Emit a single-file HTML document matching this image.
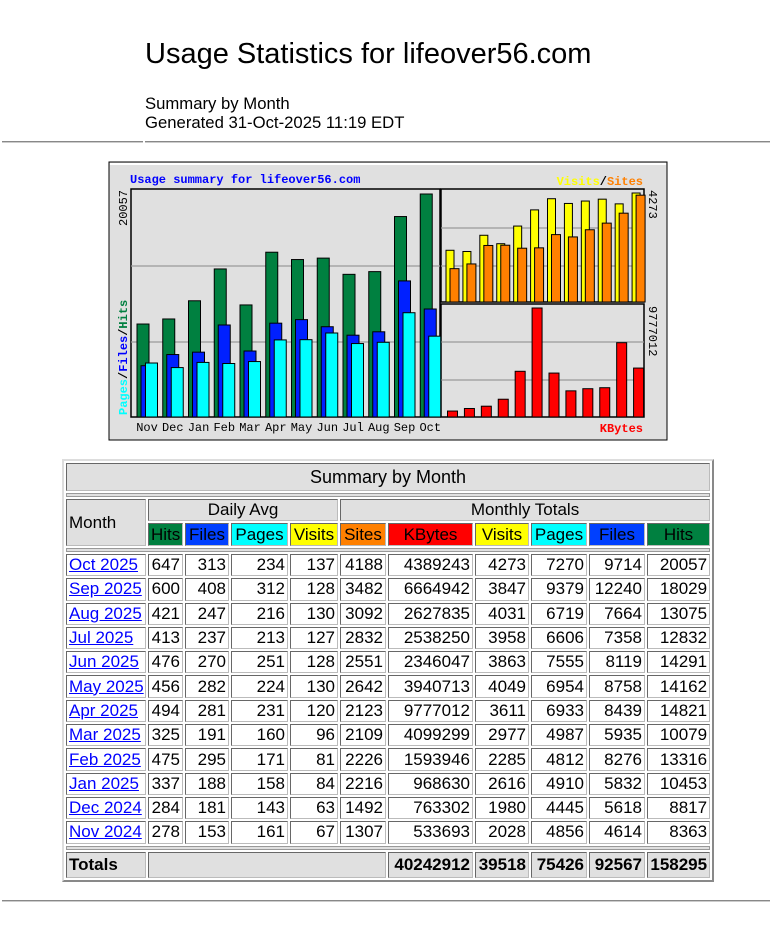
<!DOCTYPE html>
<html><head><meta charset="utf-8">
<style>
body{margin:0;width:770px;height:947px;background:#fff;font-family:"Liberation Sans",Arial,sans-serif;position:relative;overflow:hidden}
.abs{position:absolute}
.hr{position:absolute;height:0;border-top:1px solid #888;border-bottom:1px solid #ccc}
table{position:absolute;left:62px;top:459px;width:652px;border:2px outset #ddd;border-spacing:2px;table-layout:fixed;font-size:17px;background:#fff}
td,th{border:1px inset #bbb;padding:0 2px;white-space:nowrap;overflow:hidden}
th{font-weight:normal}
.g{background:#e0e0e0}
td.n{text-align:right}
a{color:#00f}
.sep td{height:2px;padding:0;background:#e0e0e0;border:1px solid #999}
</style></head><body>
<div class="abs" style="left:145px;top:38px;font-size:29px">Usage Statistics for lifeover56.com</div>
<div class="abs" style="left:145px;top:94px;font-size:16.7px;line-height:19px">Summary by Month<br>Generated 31-Oct-2025 11:19 EDT</div>
<div class="hr" style="left:2px;top:141px;width:141px"></div>
<div class="hr" style="left:145px;top:141px;width:625px"></div>

<svg class="abs" style="left:108px;top:161px" width="560" height="280" viewBox="108 161 560 280">
<rect x="109" y="162" width="558" height="278" fill="#e0e0e0" stroke="#000" stroke-width="1"/>
<rect x="110" y="163" width="556" height="2" fill="#fff"/>
<text x="130" y="183" font-family="Liberation Mono,monospace" font-size="12" font-weight="bold" fill="#0000ff">Usage summary for lifeover56.com</text>
<text x="643" y="185" text-anchor="end" font-family="Liberation Mono,monospace" font-size="12" font-weight="bold"><tspan fill="#ffff00">Visits</tspan><tspan fill="#000">/</tspan><tspan fill="#ff8000">Sites</tspan></text>
<text x="643" y="432" text-anchor="end" font-family="Liberation Mono,monospace" font-size="12" font-weight="bold" fill="#ff0000">KBytes</text>
<text transform="translate(127,415) rotate(-90)" font-family="Liberation Mono,monospace" font-size="12" font-weight="bold"><tspan fill="#00ffff">Pages</tspan><tspan fill="#000">/</tspan><tspan fill="#0000ff">Files</tspan><tspan fill="#000">/</tspan><tspan fill="#008040">Hits</tspan></text>
<text transform="translate(127,226) rotate(-90)" font-family="Liberation Mono,monospace" font-size="12" fill="#000">20057</text>
<text transform="translate(649,190) rotate(90)" font-family="Liberation Mono,monospace" font-size="12" fill="#000">4273</text>
<text transform="translate(649,306) rotate(90)" font-family="Liberation Mono,monospace" font-size="12" fill="#000">9777012</text>
<g id="plots"></g>
</svg>

<table>
<colgroup><col style="width:80px"><col style="width:35px"><col style="width:44px"><col style="width:57px"><col style="width:48px"><col style="width:46px"><col style="width:85px"><col style="width:54px"><col style="width:56px"><col style="width:56px"><col style="width:63px"></colgroup>
<tr style="height:28px"><th colspan="11" class="g" style="font-size:18px">Summary by Month</th></tr>
<tr class="sep"><td colspan="11"></td></tr>
<tr style="height:22px"><th rowspan="2" class="g" style="text-align:left">Month</th>
<th colspan="4" class="g">Daily Avg</th>
<th colspan="6" class="g">Monthly Totals</th></tr>
<tr style="height:23px">
<th style="background:#008040">Hits</th>
<th style="background:#0040ff">Files</th>
<th style="background:#00ffff">Pages</th>
<th style="background:#ffff00">Visits</th>
<th style="background:#ff8000">Sites</th>
<th style="background:#ff0000">KBytes</th>
<th style="background:#ffff00">Visits</th>
<th style="background:#00ffff">Pages</th>
<th style="background:#0040ff">Files</th>
<th style="background:#008040">Hits</th></tr>
<tr class="sep"><td colspan="11"></td></tr>
<tbody id="rows"></tbody>
<tr class="sep"><td colspan="11"></td></tr>
<tr class="g" style="height:26px"><th class="g" style="text-align:left;font-weight:bold">Totals</th><th colspan="5" class="g"></th>
<td class="n g" style="font-weight:bold">40242912</td>
<td class="n g" style="font-weight:bold">39518</td>
<td class="n g" style="font-weight:bold">75426</td>
<td class="n g" style="font-weight:bold">92567</td>
<td class="n g" style="font-weight:bold">158295</td></tr>
</table>
<div class="hr" style="left:2px;top:900px;width:768px"></div>

<script>
const months = ["Nov","Dec","Jan","Feb","Mar","Apr","May","Jun","Jul","Aug","Sep","Oct"];
const hits = [8363,8817,10453,13316,10079,14821,14162,14291,12832,13075,18029,20057];
const files = [4614,5618,5832,8276,5935,8439,8758,8119,7358,7664,12240,9714];
const pages = [4856,4445,4910,4812,4987,6933,6954,7555,6606,6719,9379,7270];
const visits = [2028,1980,2616,2285,2977,3611,4049,3863,3958,4031,3847,4273];
const sites = [1307,1492,2216,2226,2109,2123,2642,2551,2832,3092,3482,4188];
const kbytes = [533693,763302,968630,1593946,4099299,9777012,3940713,2346047,2538250,2627835,6664942,4389243];
const rowLabels = ["Oct 2025","Sep 2025","Aug 2025","Jul 2025","Jun 2025","May 2025","Apr 2025","Mar 2025","Feb 2025","Jan 2025","Dec 2024","Nov 2024"];
const avgHits = [647,600,421,413,476,456,494,325,475,337,284,278];
const avgFiles = [313,408,247,237,270,282,281,191,295,188,181,153];
const avgPages = [234,312,216,213,251,224,231,160,171,158,143,161];
const avgVisits = [137,128,130,127,128,130,120,96,81,84,63,67];

const NS="http://www.w3.org/2000/svg";
const g=document.getElementById('plots');
function el(t,a){const e=document.createElementNS(NS,t);for(const k in a)e.setAttribute(k,a[k]);g.appendChild(e);return e;}
const L={x0:131,x1:440,top:189,base:417,h:223};
const RT={x0:441,x1:644,top:189,base:302,h:109};
const RB={x0:441,x1:644,top:304,base:417,h:109};
[L,RT,RB].forEach(p=>{el('rect',{x:p.x0,y:p.top,width:p.x1-p.x0,height:p.base-p.top,fill:'none',stroke:'#000','stroke-width':1.5});});
[342,266].forEach(y=>el('line',{x1:L.x0,x2:L.x1,y1:y,y2:y,stroke:'#999','stroke-width':1.2}));
[266,228].forEach(y=>el('line',{x1:RT.x0,x2:RT.x1,y1:y,y2:y,stroke:'#999','stroke-width':1.2}));
[380,342].forEach(y=>el('line',{x1:RB.x0,x2:RB.x1,y1:y,y2:y,stroke:'#999','stroke-width':1.2}));
const maxL=Math.max(...hits), maxV=Math.max(...visits,...sites), maxK=Math.max(...kbytes);
const yL=v=>L.base-v/maxL*L.h, yV=v=>RT.base-v/maxV*RT.h, yK=v=>RB.base-v/maxK*RB.h;
function bar(x,w,y,base,fill,name){const r=el('rect',{x:x,y:y,width:w,height:base-y,fill:fill,stroke:'#000','stroke-width':1});

}
const stepL=(L.x1-L.x0)/12, stepR=(RT.x1-RT.x0)/12;
months.forEach((m,i)=>{
  const x=L.x0+6+i*stepL;
  bar(x,12,yL(hits[i]),L.base,'#008040','bar-hits-'+m);
  bar(x+4,12,yL(files[i]),L.base,'#0020ff','bar-files-'+m);
  bar(x+8.5,12,yL(pages[i]),L.base,'#00ffff','bar-pages-'+m);
  const t=el('text',{x:x+10,y:431,'text-anchor':'middle','font-family':'Liberation Mono,monospace','font-size':12,fill:'#000'});t.textContent=m;
  
  
  const xr=RT.x0+5+i*stepR;
  bar(xr,8,yV(visits[i]),RT.base,'#ffff00','bar-visits-'+m);
  bar(xr+4,9,yV(sites[i]),RT.base,'#ff8000','bar-sites-'+m);
  bar(xr+1.5,10,yK(kbytes[i]),RB.base,'#ff0000','bar-kbytes-'+m);
});
const tb=document.getElementById('rows');
rowLabels.forEach((lab,i)=>{
  const j=11-i;
  const tr=document.createElement('tr');tr.style.height='22.3px';
  const vals=[avgHits[i],avgFiles[i],avgPages[i],avgVisits[i],sites[j],kbytes[j],visits[j],pages[j],files[j],hits[j]];
  let h='<td><a href="#">'+lab+'</a></td>';
  vals.forEach(v=>h+='<td class="n">'+v+'</td>');
  tr.innerHTML=h;
  
  
  tr.querySelector('a');
  tr.querySelector('a');
  tb.appendChild(tr);
});
</script>
</body></html>
